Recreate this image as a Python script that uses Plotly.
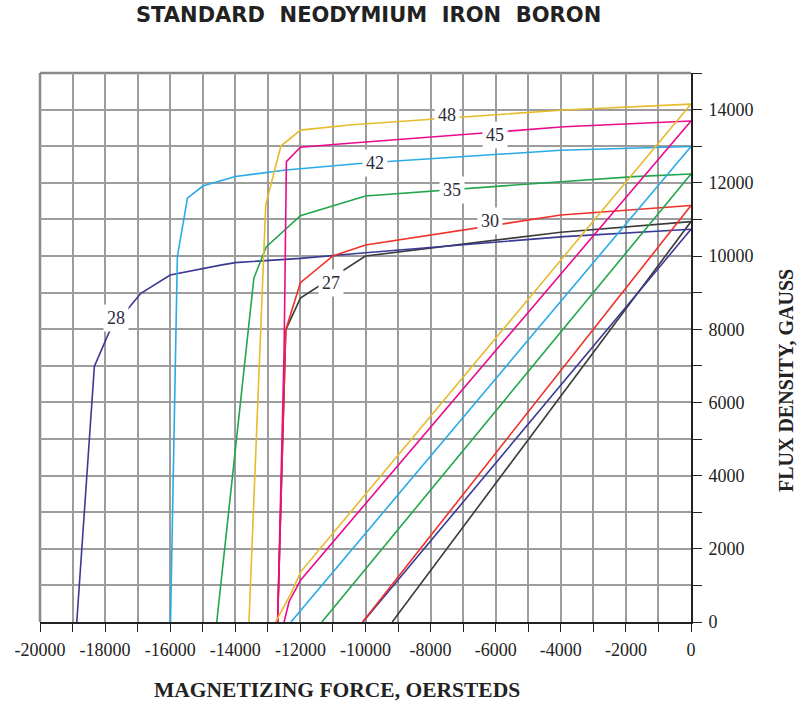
import plotly.graph_objects as go

# Demagnetization curves of standard NdFeB grades (H in oersteds, B in gauss)
grades = ["27", "28", "30", "35", "42", "45", "48"]
colors = {
    "27": "#3a3a3a",
    "28": "#3a3a94",
    "30": "#f0302a",
    "35": "#22a64c",
    "42": "#2aaae6",
    "45": "#ec0a8c",
    "48": "#e6bb2c",
}

# Intrinsic (knee) curves
knee_h = {
    "27": [0, -4000, -10000, -10650, -11680, -12000, -12450, -12700],
    "28": [0, -3900, -10000, -12000, -14000, -14450, -16000, -16900, -17200, -17870, -18330, -18380, -18870],
    "30": [0, -2000, -4000, -10000, -11000, -12000, -12450, -12700],
    "35": [0, -1750, -4000, -10000, -12000, -13050, -13430, -14570],
    "42": [0, -4000, -10000, -12450, -14000, -15000, -15470, -15780, -15990],
    "45": [0, -3900, -10500, -12000, -12430, -12500, -12700],
    "48": [0, -3900, -10500, -12000, -12600, -13065, -13580],
}
knee_b = {
    "27": [10940, 10650, 10000, 9620, 9030, 8850, 7980, 0],
    "28": [10730, 10530, 10090, 9935, 9820, 9750, 9480, 8980, 8660, 7930, 6980, 6340, 0],
    "30": [11380, 11250, 11120, 10300, 10000, 9270, 7980, 0],
    "35": [12240, 12170, 12030, 11640, 11100, 10250, 9390, 0],
    "42": [12990, 12890, 12540, 12350, 12170, 11910, 11580, 9980, 0],
    "45": [13690, 13530, 13080, 12970, 12580, 7430, 0],
    "48": [14150, 13990, 13580, 13440, 13005, 11400, 0],
}

# Normal curves
normal_h = {
    "27": [0, -9180],
    "28": [0, -10080],
    "30": [0, -10090],
    "35": [0, -11340],
    "42": [0, -12290],
    "45": [0, -11990, -12350, -12500],
    "48": [0, -11990, -12290, -12760],
}
normal_b = {
    "27": [10940, 0],
    "28": [10730, 0],
    "30": [11380, 0],
    "35": [12240, 0],
    "42": [12990, 0],
    "45": [13690, 1150, 555, 0],
    "48": [14150, 1370, 780, 0],
}

# Grade label positions
label_h = {"27": -11074, "28": -17669, "30": -6166, "35": -7331, "42": -9693, "45": -6012, "48": -7485}
label_b = {"27": 9262, "28": 8306, "30": 10956, "35": 11803, "42": 12541, "45": 13306, "48": 13852}

x_ticks = list(range(-20000, 1, 2000))
x_ticktext = [str(v) for v in x_ticks]
y_ticks = list(range(0, 14001, 2000))
y_ticktext = [str(v) for v in y_ticks]

fig = go.Figure()
for g in grades:
    c = colors[g]
    fig.add_trace(go.Scatter(x=normal_h[g], y=normal_b[g], mode="lines",
                             line=dict(color=c, width=1.6), hoverinfo="skip"))
    fig.add_trace(go.Scatter(x=knee_h[g], y=knee_b[g], mode="lines",
                             line=dict(color=c, width=1.6), hoverinfo="skip"))

for g in grades:
    fig.add_annotation(x=label_h[g], y=label_b[g], text=g, showarrow=False,
                       font=dict(family="Liberation Serif", size=18, color="#2b2b3b"),
                       bgcolor="white", borderpad=3)

grid = "#9c9c9c"
serif = "Liberation Serif"

fig.update_xaxes(range=[-20000, 0], tickvals=x_ticks, ticktext=x_ticktext,
                 showgrid=True, gridcolor=grid, gridwidth=1.5,
                 ticks="outside", ticklen=8, tickcolor="#222", tickwidth=1.2,
                 minor=dict(dtick=1000, tick0=0, ticks="outside", ticklen=8,
                            tickcolor="#222", showgrid=True, gridcolor=grid, gridwidth=1.5),
                 showline=True, linecolor="#222", linewidth=2,
                 tickfont=dict(family=serif, size=18, color="#222"),
                 ticklabelstandoff=2, zeroline=False, fixedrange=True)
fig.update_yaxes(range=[0, 15000], side="right", tickvals=y_ticks, ticktext=y_ticktext,
                 showgrid=True, gridcolor=grid, gridwidth=1.5,
                 ticks="outside", ticklen=9, tickcolor="#222", tickwidth=1.2,
                 minor=dict(dtick=1000, tick0=0, ticks="outside", ticklen=9,
                            tickcolor="#222", showgrid=True, gridcolor=grid, gridwidth=1.5),
                 showline=True, linecolor="#222", linewidth=2,
                 tickfont=dict(family=serif, size=18, color="#222"),
                 ticklabelstandoff=3, zeroline=False, fixedrange=True)

# gray frame on the left and top edges
fig.add_shape(type="line", xref="paper", yref="paper", x0=0, x1=0, y0=0, y1=1,
              line=dict(color="#8a8a8a", width=2.5), layer="below")
fig.add_shape(type="line", xref="paper", yref="paper", x0=0, x1=1, y0=1, y1=1,
              line=dict(color="#8a8a8a", width=2.5), layer="below")

fig.add_annotation(xref="paper", yref="paper", x=0.504, y=1.1056,
                   text="STANDARD\u00a0\u00a0NEODYMIUM\u00a0\u00a0IRON\u00a0\u00a0BORON",
                   showarrow=False, xanchor="center", yanchor="middle",
                   font=dict(family="DejaVu Sans", size=21, color="#222", weight="bold"))
fig.add_annotation(xref="paper", yref="paper", x=0.456, y=-0.1239,
                   text="MAGNETIZING FORCE, OERSTEDS", showarrow=False,
                   xanchor="center", yanchor="middle",
                   font=dict(family=serif, size=21.5, color="#222", weight="bold"))
fig.add_annotation(xref="paper", yref="paper", x=1.146, y=0.439,
                   text="FLUX DENSITY, GAUSS", showarrow=False, textangle=-90,
                   xanchor="center", yanchor="middle",
                   font=dict(family=serif, size=20, color="#222", weight="bold"))

fig.update_layout(width=800, height=709, margin=dict(l=40, r=109, t=73, b=87),
                  plot_bgcolor="white", paper_bgcolor="white", showlegend=False)

fig.write_html("out.html")
